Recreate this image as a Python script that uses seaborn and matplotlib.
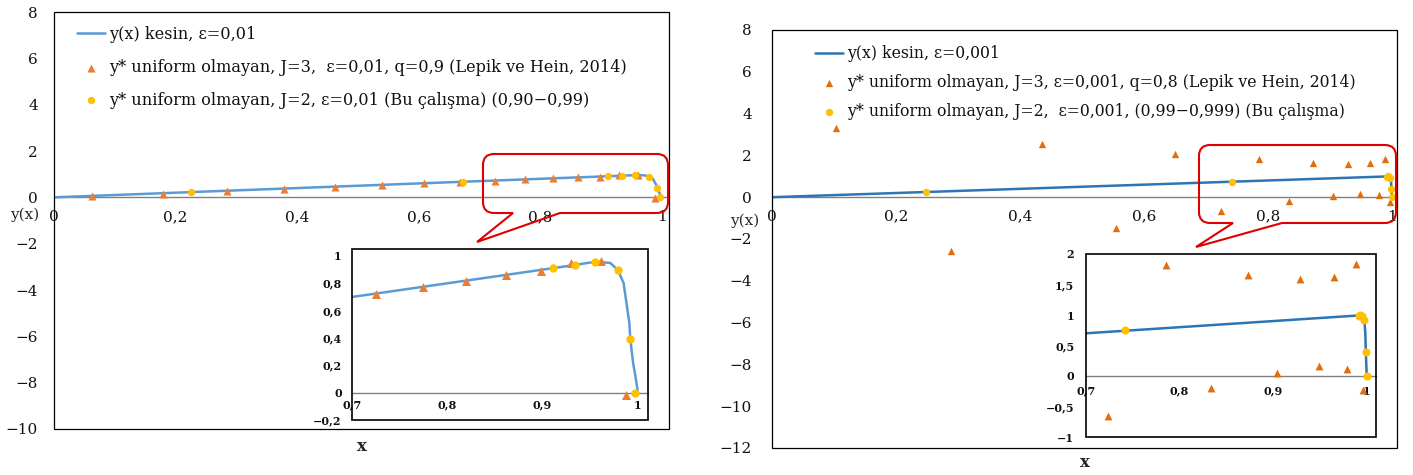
import matplotlib
matplotlib.use("Agg")
import matplotlib.pyplot as plt
import seaborn as sns
import pandas as pd
from matplotlib.path import Path
from matplotlib.patches import PathPatch, Rectangle
from matplotlib.ticker import FuncFormatter

# ---------------- data ----------------
# left panel, eps = 0.01
left_exact_x = [0, 0.1, 0.2, 0.3, 0.4, 0.5, 0.6, 0.7, 0.8, 0.9, 0.93, 0.95, 0.96,
                0.971, 0.979, 0.985, 0.988, 0.991, 0.992, 0.995, 0.998, 1.0]
left_exact_y = [0, 0.1, 0.2, 0.3, 0.4, 0.5, 0.6, 0.7, 0.8, 0.9, 0.93, 0.952, 0.956,
                0.949, 0.897, 0.802, 0.656, 0.51, 0.393, 0.217, 0.095, 0.0]
left_lepik_x = [0.062, 0.179, 0.284, 0.378, 0.462, 0.54, 0.609, 0.668, 0.725, 0.775,
                0.82, 0.862, 0.898, 0.93, 0.961, 0.988]
left_lepik_y = [0.05, 0.15, 0.27, 0.37, 0.46, 0.54, 0.60, 0.66, 0.72, 0.77,
                0.817, 0.864, 0.888, 0.946, 0.963, -0.015]
left_this_x = [0.225, 0.672, 0.911, 0.934, 0.955, 0.979, 0.992, 0.997]
left_this_y = [0.23, 0.68, 0.912, 0.934, 0.954, 0.896, 0.392, 0.0]

# right panel, eps = 0.001
right_exact_x = [0, 0.2, 0.4, 0.6, 0.8, 0.989, 0.9945, 0.9975, 0.9985, 0.999, 1.0]
right_exact_y = [0, 0.2, 0.4, 0.6, 0.8, 0.99, 0.975, 0.91, 0.70, 0.40, 0.0]
right_lepik_x = [0.104, 0.288, 0.436, 0.555, 0.65, 0.724, 0.785, 0.834, 0.873, 0.904,
                 0.929, 0.949, 0.965, 0.979, 0.988, 0.996]
right_lepik_y = [3.32, -2.57, 2.55, -1.45, 2.07, -0.65, 1.825, -0.2, 1.66, 0.05,
                 1.59, 0.165, 1.62, 0.12, 1.84, -0.23]
right_this_x = [0.248, 0.742, 0.9915, 0.993, 0.9945, 0.9975, 0.999, 0.9999]
right_this_y = [0.24, 0.75, 0.99, 1.0, 0.99, 0.91, 0.40, 0.0]

left_labels = ["y(x) kesin, ε=0,01",
               "y* uniform olmayan, J=3,  ε=0,01, q=0,9 (Lepik ve Hein, 2014)",
               "y* uniform olmayan, J=2, ε=0,01 (Bu çalışma) (0,90−0,99)"]
right_labels = ["y(x) kesin, ε=0,001",
                "y* uniform olmayan, J=3, ε=0,001, q=0,8 (Lepik ve Hein, 2014)",
                "y* uniform olmayan, J=2,  ε=0,001, (0,99−0,999) (Bu çalışma)"]

main_xticks = [0, 0.2, 0.4, 0.6, 0.8, 1.0]
left_yticks = [-10, -8, -6, -4, -2, 0, 2, 4, 6, 8]
right_yticks = [-12, -10, -8, -6, -4, -2, 0, 2, 4, 6, 8]
inset_xticks = [0.7, 0.8, 0.9, 1.0]
left_inset_yticks = [-0.2, 0, 0.2, 0.4, 0.6, 0.8, 1.0]
right_inset_yticks = [-1, -0.5, 0, 0.5, 1, 1.5, 2]

# ---------------- style ----------------
sns.set_theme(style="white")
plt.rcParams['font.family'] = ['DejaVu Serif', 'DejaVu Sans']
plt.rcParams['axes.unicode_minus'] = True
plt.rcParams['text.color'] = '#111111'

W, H = 1413, 475
fig = plt.figure(figsize=(W / 100, H / 100), dpi=100)
fig.patch.set_facecolor('white')


def add_ax(l, t, r, b):
    return fig.add_axes([l / W, 1 - b / H, (r - l) / W, (b - t) / H])


def fmt(v, pos):
    s = f"{v:.3f}".rstrip('0').rstrip('.')
    if s == '-0':
        s = '0'
    return s.replace('.', ',').replace('-', '−')


def style(ax, xlim, ylim, xticks, yticks, fs, bold, xpad, ypad, box_lw):
    ax.set_xlim(xlim)
    ax.set_ylim(ylim)
    ax.set_xticks(xticks)
    ax.set_yticks(yticks)
    ax.xaxis.set_major_formatter(FuncFormatter(fmt))
    ax.yaxis.set_major_formatter(FuncFormatter(fmt))
    for s in ['top', 'right', 'left']:
        ax.spines[s].set_visible(False)
    ax.spines['bottom'].set_position(('data', 0))
    ax.spines['bottom'].set_color('#808080')
    ax.spines['bottom'].set_linewidth(1.0)
    ax.tick_params(axis='x', length=0, pad=xpad, labelsize=fs, colors='#111111')
    ax.tick_params(axis='y', length=0, pad=ypad, labelsize=fs, colors='#111111')
    if bold:
        for lab in ax.get_xticklabels() + ax.get_yticklabels():
            lab.set_fontweight('bold')
    ax.add_patch(Rectangle((0, 0), 1, 1, transform=ax.transAxes, fill=False,
                           ec='black', lw=box_lw, clip_on=False, zorder=5))
    ax.set_facecolor('white')
    ax.grid(False)
    ax.set_xlabel('')
    ax.set_ylabel('')


def draw(ax, ex, ey, lx, ly, tx, ty, lcol, tcol, ccol, ts, cs, labels=None):
    d1 = pd.DataFrame({'x': ex, 'y': ey})
    d2 = pd.DataFrame({'x': lx, 'y': ly})
    d3 = pd.DataFrame({'x': tx, 'y': ty})
    lab = labels if labels else [None, None, None]
    sns.lineplot(data=d1, x='x', y='y', ax=ax, color=lcol, lw=1.8, sort=False,
                 estimator=None, label=lab[0], legend=False, zorder=3)
    sns.scatterplot(data=d2, x='x', y='y', ax=ax, marker='^', s=ts, color=tcol,
                    linewidth=0, label=lab[1], legend=False, zorder=4)
    sns.scatterplot(data=d3, x='x', y='y', ax=ax, marker='o', s=cs, color=ccol,
                    linewidth=0, label=lab[2], legend=False, zorder=4)


def callout(L, T, R, B, xa, xb, tx, ty, r=11):
    pts = [(L + r, T), (R - r, T), (R, T), (R, T + r), (R, B - r), (R, B), (R - r, B),
           (xb, B), (tx, ty), (xa, B), (L + r, B), (L, B), (L, B - r), (L, T + r),
           (L, T), (L + r, T), (L + r, T)]
    codes = [Path.MOVETO, Path.LINETO, Path.CURVE3, Path.CURVE3, Path.LINETO,
             Path.CURVE3, Path.CURVE3, Path.LINETO, Path.LINETO, Path.LINETO,
             Path.LINETO, Path.CURVE3, Path.CURVE3, Path.LINETO, Path.CURVE3,
             Path.CURVE3, Path.CLOSEPOLY]
    verts = [(x / W, 1 - y / H) for x, y in pts]
    fig.patches.append(PathPatch(Path(verts, codes), transform=fig.transFigure,
                                 fill=False, ec='#E00000', lw=1.5, zorder=6))


BLUE_L, BLUE_R = '#5B9BD5', '#2E75B6'
ORANGE_L, ORANGE_R = '#ED7D31', '#E46C0A'
YELLOW = '#FFC000'

# ---------------- left panel ----------------
axL = add_ax(54, 12, 669, 429)
draw(axL, left_exact_x, left_exact_y, left_lepik_x, left_lepik_y, left_this_x,
     left_this_y, BLUE_L, ORANGE_L, YELLOW, 34, 28, labels=left_labels)
style(axL, (0, 1.0115), (-10, 8), main_xticks, left_yticks, 11, False, 9, 11.5, 0.9)
axL.set_xlabel('x', fontsize=12, fontweight='bold')
axL.xaxis.set_label_coords(0.501, -0.041)
axL.xaxis.label.set_va('center')
axL.set_ylabel('y(x)', fontsize=11, rotation=0)
axL.yaxis.set_label_coords(-0.047, 0.513)
axL.yaxis.label.set_va('center')
axL.yaxis.label.set_ha('center')
axL.legend(loc='upper left', bbox_to_anchor=(77 / W, 1 - 26 / H),
           bbox_transform=fig.transFigure, frameon=False, borderpad=0,
           borderaxespad=0, handlelength=1.75, handletextpad=0.25,
           labelspacing=0.98, fontsize=11.6)

insL = add_ax(352, 249, 648, 420)
draw(insL, left_exact_x, left_exact_y, left_lepik_x, left_lepik_y, left_this_x,
     left_this_y, BLUE_L, ORANGE_L, YELLOW, 42, 36)
style(insL, (0.7, 1.0106), (-0.2, 1.051), inset_xticks, left_inset_yticks, 8, True, 5, 7.4, 1.2)

callout(483, 154, 668, 213, 513, 560, 477, 242)

# ---------------- right panel ----------------
axR = add_ax(772, 30, 1397, 448)
draw(axR, right_exact_x, right_exact_y, right_lepik_x, right_lepik_y, right_this_x,
     right_this_y, BLUE_R, ORANGE_R, YELLOW, 28, 28, labels=right_labels)
style(axR, (0, 1.008), (-12, 8), main_xticks, right_yticks, 11, False, 9, 14.5, 0.9)
axR.set_xlabel('x', fontsize=12, fontweight='bold')
axR.xaxis.set_label_coords(0.501, -0.0335)
axR.xaxis.label.set_va('center')
axR.set_ylabel('y(x)', fontsize=11, rotation=0)
axR.yaxis.set_label_coords(-0.043, 0.543)
axR.yaxis.label.set_va('center')
axR.yaxis.label.set_ha('center')
axR.legend(loc='upper left', bbox_to_anchor=(815 / W, 1 - 45 / H),
           bbox_transform=fig.transFigure, frameon=False, borderpad=0,
           borderaxespad=0, handlelength=1.8, handletextpad=0.25,
           labelspacing=0.76, fontsize=11.3)

insR = add_ax(1086, 254, 1376, 437)
draw(insR, right_exact_x, right_exact_y, right_lepik_x, right_lepik_y, right_this_x,
     right_this_y, BLUE_R, ORANGE_R, YELLOW, 32, 34)
style(insR, (0.7, 1.0099), (-1, 2), inset_xticks, right_inset_yticks, 8, True, 7, 8.4, 1.2)

callout(1199, 145, 1396, 223, 1233, 1282, 1196, 247)

fig.savefig('out.png', dpi=100, facecolor='white')
